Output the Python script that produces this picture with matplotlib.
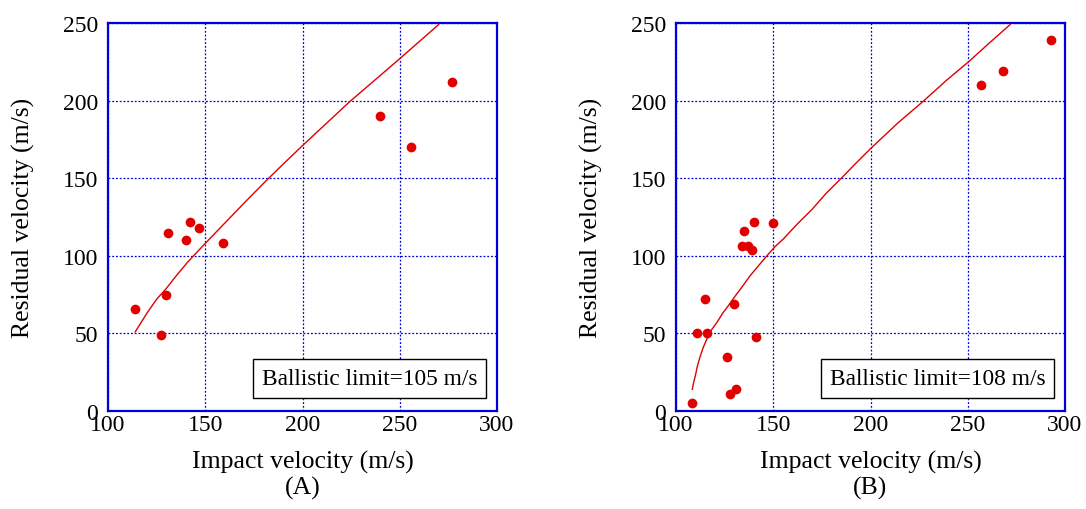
import matplotlib.pyplot as plt

plt.rcParams['font.family'] = ['Liberation Serif', 'DejaVu Serif']

# (A) measured points
vi_a = [114, 127, 130, 131, 140, 142, 147, 159, 240, 256, 277]
vr_a = [66, 49, 75, 115, 110, 122, 118, 108, 190, 170, 212]
# (A) fitted curve
fit_vi_a = [114, 117, 120, 125, 130, 135, 141, 150, 160, 170, 181, 190, 200, 212, 224, 237, 250, 260, 270]
fit_vr_a = [51, 57, 63, 72, 79, 87, 96, 108, 121, 134, 148, 159, 171, 185, 199, 213, 227, 238, 249]

# (B) measured points
vi_b = [108, 111, 115, 116, 126, 128, 130, 131, 134, 135, 137, 139, 140, 141, 150, 257, 268, 293]
vr_b = [5, 50, 72, 50, 35, 11, 69, 14, 106, 116, 106, 104, 122, 48, 121, 210, 219, 239]
# (B) fitted curve
fit_vi_b = [108.4, 109, 110, 111, 112.4, 114, 117.5, 121, 124, 127, 130.4, 134, 138, 142, 146.7, 151, 155.3,
            162, 170, 177, 185, 192, 200.4, 214, 227.5, 239, 250.4, 261, 271.8]
fit_vr_b = [14, 18, 23, 29, 35, 41, 51, 57, 63, 68, 74, 80, 87, 93, 100, 106, 111,
            120, 130, 140, 150, 159, 169.5, 185.5, 200, 213, 225, 237, 249]

panels = [
    (vi_a, vr_a, fit_vi_a, fit_vr_a, "Ballistic limit=105 m/s", "(A)"),
    (vi_b, vr_b, fit_vi_b, fit_vr_b, "Ballistic limit=108 m/s", "(B)"),
]

fig = plt.figure(figsize=(10.86, 5.10), dpi=100)
lefts = [108 / 1086, 676 / 1086]

for left, (vi, vr, fvi, fvr, note, tag) in zip(lefts, panels):
    ax = fig.add_axes([left, 98 / 510, 389 / 1086, 388 / 510])
    ax.plot(fvi, fvr, color="#e00000", linewidth=1.0, zorder=3)
    ax.plot(vi, vr, "o", color="#e00000", markersize=7, markeredgewidth=0, zorder=4)

    ax.set_xlim(100, 300)
    ax.set_ylim(0, 250)
    ax.set_xticks([100, 150, 200, 250, 300])
    ax.set_yticks([0, 50, 100, 150, 200, 250])
    ax.grid(True, color="#0000dd", linestyle=(0, (1.5, 1.5)), linewidth=0.9)
    ax.set_axisbelow(True)
    for s in ax.spines.values():
        s.set_color("#0000dd")
        s.set_linewidth(1.6)
    ax.tick_params(length=0, labelsize=17)
    ax.tick_params(axis="x", pad=2)
    ax.tick_params(axis="y", pad=7)

    ax.set_xlabel("Impact velocity (m/s)", fontsize=18.5, labelpad=11)
    ax.set_ylabel("Residual velocity (m/s)", fontsize=18.5, labelpad=20)
    ax.text(0.5, -0.198, tag, transform=ax.transAxes, ha="center", va="center",
            fontsize=18.5)
    ax.text(0.95, 0.083, note, transform=ax.transAxes, ha="right", va="center",
            fontsize=16.8,
            bbox=dict(boxstyle="square,pad=0.38", facecolor="white",
                      edgecolor="black", linewidth=1.0))

fig.savefig("out.png", dpi=100)
